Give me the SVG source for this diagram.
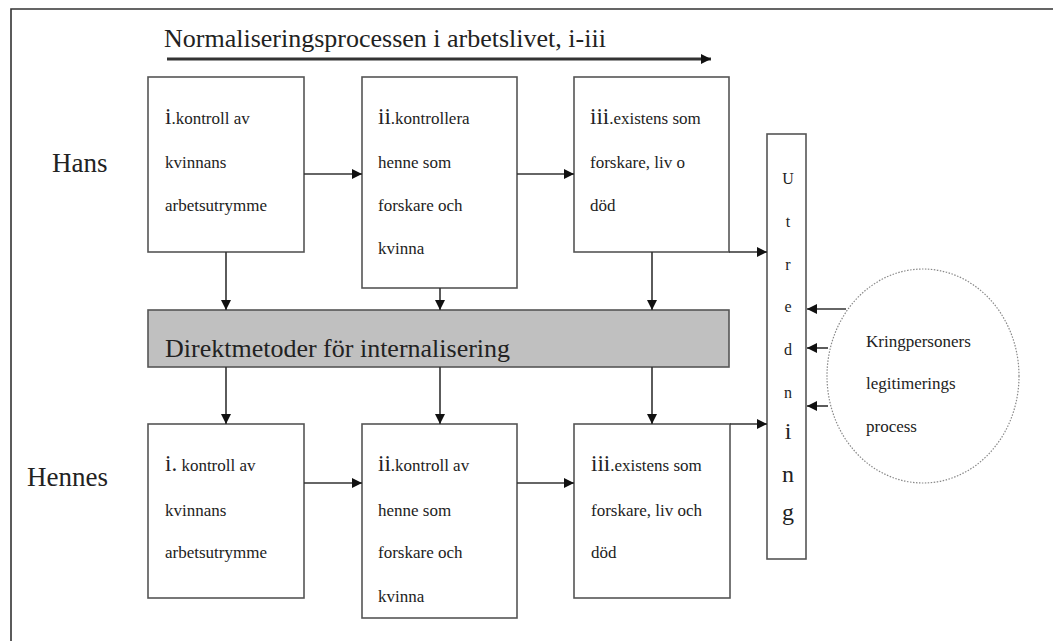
<svg xmlns="http://www.w3.org/2000/svg" width="1053" height="641" viewBox="0 0 1053 641">
<defs>
<marker id="ah" viewBox="0 0 10 10" refX="10" refY="5" markerWidth="10" markerHeight="10" markerUnits="userSpaceOnUse" orient="auto">
<path d="M0,0 L10,5 L0,10 z" fill="#111"/>
</marker>
<style>
text{font-family:"Liberation Serif","Times New Roman",serif;fill:#222}
.box{fill:#fff;stroke:#555;stroke-width:1.6}
.s{font-size:17px}
.big{font-size:23px}
.lbl{font-size:27px}
.con line,.con path{stroke:#333;stroke-width:1.6;fill:none}
.arr{marker-end:url(#ah)}
</style>
</defs>
<rect width="1053" height="641" fill="#fff"/>
<path d="M11,641 L11,9 L1053,9" fill="none" stroke="#333" stroke-width="1.6"/>

<g id="title">
<text x="164" y="47" style="font-size:26px">Normaliseringsprocessen i arbetslivet, i-iii</text>
<line x1="167" y1="59" x2="711" y2="59" stroke="#333" stroke-width="3" marker-end="url(#ah)"/>
</g>

<g id="label-hans"><text class="lbl" x="52" y="172">Hans</text></g>
<g id="label-hennes"><text class="lbl" x="27" y="486">Hennes</text></g>

<g id="hans-i">
<rect class="box" x="148" y="77" width="156" height="175"/>
<text x="165" y="124"><tspan class="big">i</tspan><tspan class="s">.kontroll av</tspan></text>
<text class="s" x="165" y="168">kvinnans</text>
<text class="s" x="165" y="211">arbetsutrymme</text>
</g>
<g id="hans-ii">
<rect class="box" x="362" y="77" width="155" height="211"/>
<text x="378" y="124"><tspan class="big">ii</tspan><tspan class="s">.kontrollera</tspan></text>
<text class="s" x="378" y="168">henne som</text>
<text class="s" x="378" y="211">forskare och</text>
<text class="s" x="378" y="254">kvinna</text>
</g>
<g id="hans-iii">
<rect class="box" x="574" y="77" width="155" height="175"/>
<text x="590" y="124"><tspan class="big">iii</tspan><tspan class="s">.existens som</tspan></text>
<text class="s" x="590" y="168">forskare, liv o</text>
<text class="s" x="590" y="211">död</text>
</g>

<g id="direktmetoder">
<rect x="148" y="310" width="581" height="57" fill="#c0c0c0" stroke="#555" stroke-width="1.6"/>
<text x="165" y="357" style="font-size:26px">Direktmetoder för internalisering</text>
</g>

<g id="hennes-i">
<rect class="box" x="148" y="424" width="156" height="174"/>
<text x="165" y="471"><tspan class="big">i.</tspan><tspan class="s"> kontroll av</tspan></text>
<text class="s" x="165" y="516">kvinnans</text>
<text class="s" x="165" y="558">arbetsutrymme</text>
</g>
<g id="hennes-ii">
<rect class="box" x="362" y="424" width="155" height="194"/>
<text x="378" y="471"><tspan class="big">ii</tspan><tspan class="s">.kontroll av</tspan></text>
<text class="s" x="378" y="516">henne som</text>
<text class="s" x="378" y="558">forskare och</text>
<text class="s" x="378" y="602">kvinna</text>
</g>
<g id="hennes-iii">
<rect class="box" x="574" y="424" width="156" height="174"/>
<text x="591" y="471"><tspan class="big">iii</tspan><tspan class="s">.existens som</tspan></text>
<text class="s" x="591" y="516">forskare, liv och</text>
<text class="s" x="591" y="558">död</text>
</g>

<g id="utredning">
<rect class="box" x="767" y="134" width="39" height="425"/>
<g style="text-anchor:middle">
<text x="788" y="184" style="font-size:16px">U</text>
<text x="788" y="227" style="font-size:16px">t</text>
<text x="788" y="270" style="font-size:16px">r</text>
<text x="788" y="312" style="font-size:16px">e</text>
<text x="788" y="355" style="font-size:16px">d</text>
<text x="788" y="398" style="font-size:16px">n</text>
<text x="788" y="439" style="font-size:24px">i</text>
<text x="788" y="482" style="font-size:24px">n</text>
<text x="788" y="520" style="font-size:24px">g</text>
</g>
</g>

<g id="kringpersoner">
<ellipse cx="923" cy="376" rx="96" ry="107" fill="none" stroke="#888" stroke-width="1.2" stroke-dasharray="1.5 1.5"/>
<text class="s" x="866" y="347">Kringpersoners</text>
<text class="s" x="866" y="389">legitimerings</text>
<text class="s" x="866" y="432">process</text>
</g>

<g id="connectors" class="con">
<line class="arr" x1="304" y1="174" x2="362" y2="174"/>
<line class="arr" x1="517" y1="174" x2="574" y2="174"/>
<line class="arr" x1="729" y1="252" x2="767" y2="252"/>
<line class="arr" x1="226" y1="252" x2="226" y2="310"/>
<line class="arr" x1="440" y1="288" x2="440" y2="310"/>
<line class="arr" x1="652" y1="252" x2="652" y2="310"/>
<line class="arr" x1="226" y1="367" x2="226" y2="424"/>
<line class="arr" x1="440" y1="367" x2="440" y2="424"/>
<line class="arr" x1="652" y1="367" x2="652" y2="424"/>
<line class="arr" x1="304" y1="483" x2="362" y2="483"/>
<line class="arr" x1="517" y1="483" x2="574" y2="483"/>
<line class="arr" x1="730" y1="424" x2="767" y2="424"/>
<line class="arr" x1="846" y1="309" x2="807" y2="309"/>
<line class="arr" x1="828" y1="348" x2="807" y2="348"/>
<line class="arr" x1="828" y1="406" x2="807" y2="406"/>
</g>
</svg>
